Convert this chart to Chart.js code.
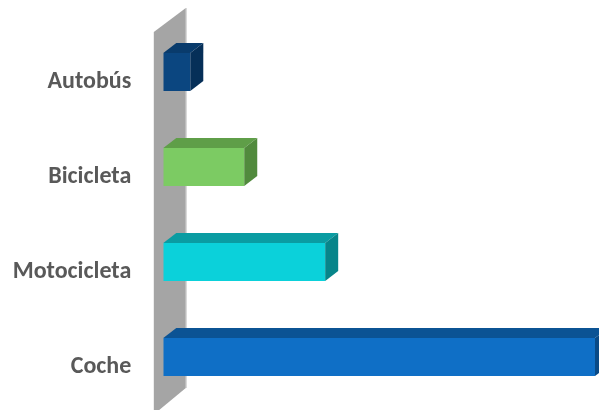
<!DOCTYPE html>
<html>
<head>
<meta charset="utf-8">
<script src="https://cdn.jsdelivr.net/npm/chart.js@4"></script>
<style>
  html, body { margin: 0; padding: 0; background: #fff; }
</style>
</head>
<body>
<canvas id="modos" width="599" height="410"></canvas>
<script>
// categorías y valores
const categorias = ['Autobús', 'Bicicleta', 'Motocicleta', 'Coche'];
const valores = [1, 3, 6, 16];

// colores de cada barra: cara frontal, superior y lateral
const frente = ['#0b4680', '#7ccb63', '#0bd1da', '#0f6fc6'];
const arriba = ['#093b6c', '#5f9e48', '#0a9ca2', '#0b5394'];
const lado = ['#062f58', '#518a3d', '#07858a', '#094a86'];

// desplazamiento de la profundidad 3D
const DX = 13;
const DY = -10;

const efecto3d = {
    id: 'efecto3d',
    beforeDatasetsDraw(chart) {
        const ctx = chart.ctx;
        const area = chart.chartArea;
        const base = chart.scales.x.getPixelForValue(0);
        const izq = base - 9.5;
        const der = base + 22.5;

        // pared lateral gris
        ctx.save();
        ctx.fillStyle = '#a5a5a5';
        ctx.beginPath();
        ctx.moveTo(izq, area.top + 7.5);
        ctx.lineTo(der, area.top - 16.5);
        ctx.lineTo(der, area.bottom - 16.5);
        ctx.lineTo(izq, area.bottom + 10);
        ctx.closePath();
        ctx.fill();
        ctx.strokeStyle = '#d0d0d0';
        ctx.lineWidth = 1;
        ctx.beginPath();
        ctx.moveTo(der + 0.5, area.top - 16.5);
        ctx.lineTo(der + 0.5, area.bottom - 16.5);
        ctx.stroke();
        ctx.restore();
    },
    afterDatasetsDraw(chart) {
        const ctx = chart.ctx;
        const barras = chart.getDatasetMeta(0).data;
        ctx.save();
        barras.forEach((b, i) => {
            const p = b.getProps(['x', 'y', 'base', 'height'], true);
            const sup = p.y - p.height / 2;
            const inf = p.y + p.height / 2;

            // cara superior
            ctx.fillStyle = arriba[i];
            ctx.beginPath();
            ctx.moveTo(p.base, sup);
            ctx.lineTo(p.x, sup);
            ctx.lineTo(p.x + DX, sup + DY);
            ctx.lineTo(p.base + DX, sup + DY);
            ctx.closePath();
            ctx.fill();

            // cara lateral
            ctx.fillStyle = lado[i];
            ctx.beginPath();
            ctx.moveTo(p.x, sup);
            ctx.lineTo(p.x + DX, sup + DY);
            ctx.lineTo(p.x + DX, inf + DY);
            ctx.lineTo(p.x, inf);
            ctx.closePath();
            ctx.fill();
        });
        ctx.restore();
    }
};

new Chart(document.getElementById('modos'), {
    type: 'bar',
    data: {
        labels: categorias,
        datasets: [{
            data: valores,
            backgroundColor: frente,
            borderWidth: 0,
            barPercentage: 0.4,
            categoryPercentage: 1
        }]
    },
    options: {
        indexAxis: 'y',
        responsive: false,
        animation: false,
        layout: {
            padding: { top: 24.5, bottom: 5.5, left: 0, right: 4 }
        },
        plugins: {
            legend: { display: false },
            tooltip: { enabled: false }
        },
        scales: {
            x: {
                display: false,
                min: 0,
                max: 16
            },
            y: {
                grid: { display: false, drawTicks: false },
                border: { display: false },
                ticks: {
                    color: '#595959',
                    padding: 32,
                    labelOffset: 10,
                    font: { family: 'Carlito, Lato, "Open Sans", sans-serif', size: 24, weight: 'bold' }
                },
                afterFit(scale) {
                    // ancho fijo del eje y sin relleno extra arriba/abajo
                    scale.width = 163.3;
                    scale.paddingTop = 0;
                    scale.paddingBottom = 0;
                }
            }
        }
    },
    plugins: [efecto3d]
});
</script>
</body>
</html>
